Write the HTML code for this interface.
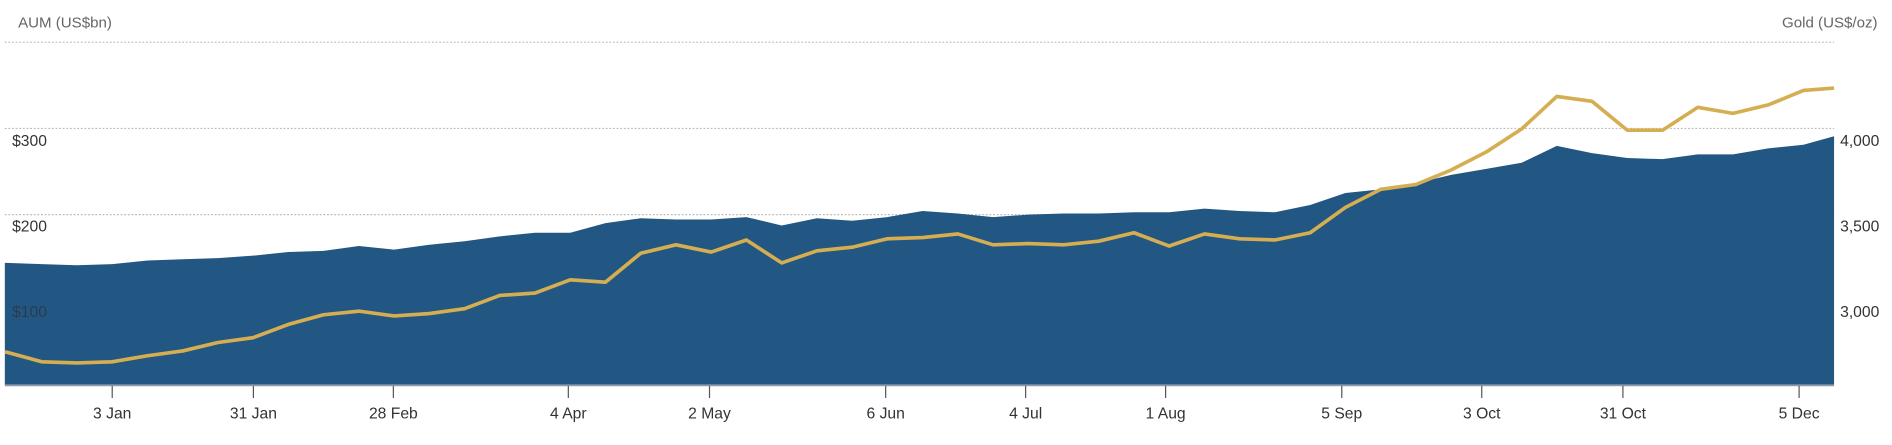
<!DOCTYPE html>
<html><head><meta charset="utf-8"><style>
html,body{margin:0;padding:0;background:#fff;}
svg{display:block;}
text{font-family:"Liberation Sans",Arial,sans-serif;font-size:13px;}
</style></head><body>
<svg width="1892" height="445" viewBox="0 0 1568 369" preserveAspectRatio="none">
<text x="15" y="23" fill="#666" style="font-size:12.5px">AUM (US$bn)</text>
<text x="1556" y="23" fill="#666" text-anchor="end" style="font-size:12.5px">Gold (US$/oz)</text>
<g stroke="#bbb" stroke-width="1" stroke-dasharray="1.5,1.5">
<line x1="4" y1="35" x2="1520" y2="35"/>
<line x1="4" y1="106.5" x2="1520" y2="106.5"/>
<line x1="4" y1="178" x2="1520" y2="178"/>
</g>
<text x="10" y="121" fill="#333">$300</text>
<text x="10" y="192" fill="#333">$200</text>
<text x="1525" y="121" fill="#333">4,000</text>
<text x="1525" y="192" fill="#333">3,500</text>
<text x="1525" y="263" fill="#333">3,000</text>
<path fill="#235783" d="M4,218 L5.4,218 L34.6,219 L63.8,220 L93,219 L122.2,216 L151.4,215 L180.6,214 L209.8,212 L239,209 L268.2,208 L297.4,204 L326.6,207 L355.8,203 L385,200 L414.2,196 L443.4,193 L472.6,193 L501.8,185 L531,181 L560.2,182 L589.4,182 L618.6,180 L647.8,187 L677,181 L706.2,183 L735.4,180 L764.6,175 L793.8,177 L823,180 L852.2,178 L881.4,177 L910.6,177 L939.8,176 L969,176 L998.2,173 L1027.4,175 L1056.6,176 L1085.8,170 L1115,160 L1144.2,157 L1173.4,152 L1202.6,145 L1231.8,140 L1261,135 L1290.2,121 L1319.4,127 L1348.6,131 L1377.8,132 L1407,128 L1436.2,128 L1465.4,123 L1494.6,120 L1520,113 L1520,319 L4,319 Z"/>
<text x="10" y="263" fill="#2a3a4a" opacity="0.9">$100</text>
<polyline fill="none" stroke="#d6ae52" stroke-width="3" stroke-linejoin="round" points="4,292 5.4,292 34.6,300 63.8,301 93,300 122.2,295 151.4,291 180.6,284 209.8,280 239,269 268.2,261 297.4,258 326.6,262 355.8,260 385,256 414.2,245 443.4,243 472.6,232 501.8,234 531,210 560.2,203 589.4,209 618.6,199 647.8,218 677,208 706.2,205 735.4,198 764.6,197 793.8,194 823,203 852.2,202 881.4,203 910.6,200 939.8,193 969,204 998.2,194 1027.4,198 1056.6,199 1085.8,193 1115,172 1144.2,157 1173.4,153 1202.6,141 1231.8,126 1261,107 1290.2,80 1319.4,84 1348.6,108 1377.8,108 1407,89 1436.2,94 1465.4,87 1494.6,75 1520,73"/>
<line x1="4" y1="319.5" x2="1520" y2="319.5" stroke="#8d9bab" stroke-width="1.5"/>
<g stroke="#555" stroke-width="1">
<line x1="93" y1="320" x2="93" y2="330"/><line x1="210" y1="320" x2="210" y2="330"/>
<line x1="326" y1="320" x2="326" y2="330"/><line x1="471" y1="320" x2="471" y2="330"/>
<line x1="588" y1="320" x2="588" y2="330"/><line x1="734" y1="320" x2="734" y2="330"/>
<line x1="850" y1="320" x2="850" y2="330"/><line x1="966" y1="320" x2="966" y2="330"/>
<line x1="1112" y1="320" x2="1112" y2="330"/><line x1="1228" y1="320" x2="1228" y2="330"/>
<line x1="1345" y1="320" x2="1345" y2="330"/><line x1="1491" y1="320" x2="1491" y2="330"/>
</g>
<g fill="#333" text-anchor="middle">
<text x="93" y="347">3 Jan</text><text x="210" y="347">31 Jan</text>
<text x="326" y="347">28 Feb</text><text x="471" y="347">4 Apr</text>
<text x="588" y="347">2 May</text><text x="734" y="347">6 Jun</text>
<text x="850" y="347">4 Jul</text><text x="966" y="347">1 Aug</text>
<text x="1112" y="347">5 Sep</text><text x="1228" y="347">3 Oct</text>
<text x="1345" y="347">31 Oct</text><text x="1491" y="347">5 Dec</text>
</g>
</svg>
</body></html>
